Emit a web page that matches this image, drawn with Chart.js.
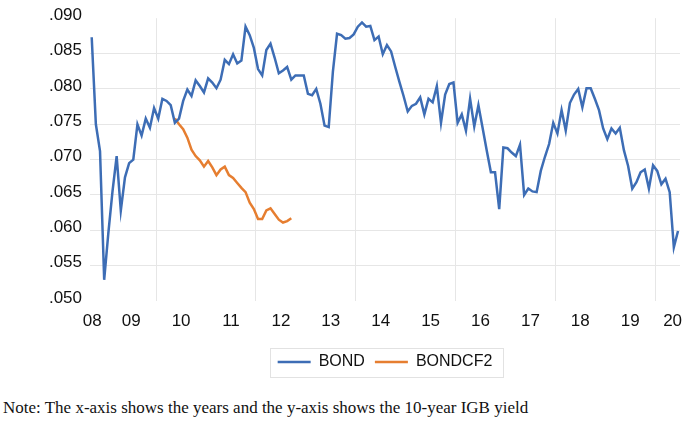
<!DOCTYPE html>
<html>
<head>
<meta charset="utf-8">
<script src="https://cdn.jsdelivr.net/npm/chart.js@4.4.1/dist/chart.umd.min.js"></script>
<style>
    body { margin: 0; background: #fff; }
    #wrap { position: relative; width: 685px; height: 395px; }
    #note {
        position: absolute; left: 3px; top: 398px;
        font-family: 'Liberation Serif', 'Times New Roman', serif;
        font-size: 17px; color: #111; white-space: nowrap;
    }
</style>
</head>
<body>
<div id="wrap"><canvas id="bondChart"></canvas></div>
<div id="note">Note: The x-axis shows the years and the y-axis shows the 10-year IGB yield</div>

<script>
// Monthly observations, 2008M09 .. 2020M06
const startYear = 2008, startMonth = 9;

const bond = [
    0.0873, 0.0750, 0.0712, 0.0530, 0.0596, 0.0655, 0.0705, 0.0628, 0.0675, 0.0695,
    0.0700, 0.0750, 0.0734, 0.0758, 0.0745, 0.0773, 0.0758, 0.0786, 0.0783, 0.0777,
    0.0752, 0.0758, 0.0783, 0.0799, 0.0790, 0.0812, 0.0804, 0.0795, 0.0815, 0.0809,
    0.0801, 0.0813, 0.0841, 0.0835, 0.0849, 0.0836, 0.0840, 0.0888, 0.0876, 0.0858,
    0.0828, 0.0819, 0.0855, 0.0864, 0.0844, 0.0822, 0.0826, 0.0831, 0.0813, 0.0819,
    0.0819, 0.0819, 0.0793, 0.0791, 0.0800, 0.0779, 0.0748, 0.0746, 0.0824, 0.0878,
    0.0876, 0.0871, 0.0872, 0.0877, 0.0888, 0.0894, 0.0888, 0.0889, 0.0869, 0.0874,
    0.0849, 0.0862, 0.0853, 0.0831, 0.0810, 0.0790, 0.0768, 0.0776, 0.0779, 0.0788,
    0.0764, 0.0786, 0.0781, 0.0804, 0.0752, 0.0792, 0.0807, 0.0809, 0.0752, 0.0764,
    0.0741, 0.0786, 0.0747, 0.0777, 0.0745, 0.0713, 0.0682, 0.0682, 0.0630, 0.0717,
    0.0716, 0.0710, 0.0705, 0.0721, 0.0650, 0.0659, 0.0655, 0.0654, 0.0684, 0.0704,
    0.0722, 0.0752, 0.0737, 0.0770, 0.0741, 0.0780, 0.0792, 0.0800, 0.0774, 0.0801,
    0.0801, 0.0786, 0.0770, 0.0744, 0.0729, 0.0744, 0.0737, 0.0745, 0.0713, 0.0691,
    0.0659, 0.0668, 0.0682, 0.0686, 0.0659, 0.0692, 0.0684, 0.0665, 0.0673, 0.0654,
    0.0576, 0.0599
];

// counterfactual series, 2010M05 .. 2012M09
const cf2Start = '2010M05';
const bondCf2 = [
    0.0758, 0.0750, 0.0743, 0.0731, 0.0714, 0.0705, 0.0699, 0.0690, 0.0698, 0.0689,
    0.0678, 0.0686, 0.0690, 0.0678, 0.0674, 0.0667, 0.0660, 0.0654, 0.0639, 0.0630,
    0.0616, 0.0616, 0.0628, 0.0631, 0.0623, 0.0615, 0.0611, 0.0613, 0.0617
];

const yearLabels = ['08', '09', '10', '11', '12', '13', '14', '15', '16', '17', '18', '19', '20'];

// month categories
const months = [];
for (let i = 0; i < bond.length; i++) {
    const m = startMonth - 1 + i;
    const y = startYear + Math.floor(m / 12);
    months.push(y + 'M' + String(m % 12 + 1).padStart(2, '0'));
}

// year label sits mid-year, first/last pulled inside the sample
const labelPos = yearLabels.map(function(lbl, k) {
    if (k === 0) return 0.15;
    if (k === yearLabels.length - 1) return 139.7;
    return months.indexOf('20' + lbl + 'M07') - 0.5;
});
// vertical grid between Dec and Jan of even years
const gridPos = ['2010', '2012', '2014', '2016', '2018', '2020'].map(function(y) {
    return months.indexOf(y + 'M01') - 0.5;
});

const xMin = -0.41, xMax = 141.48;
const cfOffset = months.indexOf(cf2Start);

const legendFrame = {
    id: 'legendFrame',
    afterDraw: function(chart) {
        const boxes = chart.legend.legendHitBoxes;
        if (!boxes || !boxes.length) return;
        const first = boxes[0], last = boxes[boxes.length - 1];
        const cy = first.top + first.height / 2;
        const ctx = chart.ctx;
        ctx.save();
        ctx.strokeStyle = '#e2e2e2';
        ctx.lineWidth = 1;
        ctx.strokeRect(Math.round(first.left - 8) + 0.5, Math.round(cy - 14.5) + 0.5,
            Math.round(last.left + last.width + 10 - first.left + 8), 29);
        ctx.restore();
    }
};

const ctx = document.getElementById('bondChart');
new Chart(ctx, {
    type: 'line',
    data: {
        datasets: [{
            label: 'BOND',
            data: bond.map(function(v, i) { return { x: i, y: v }; }),
            borderColor: '#3d6db5',
            backgroundColor: '#3d6db5',
            borderWidth: 2.5,
            pointRadius: 0,
            tension: 0,
            pointStyle: 'line'
        }, {
            label: 'BONDCF2',
            data: bondCf2.map(function(v, i) { return { x: i + cfOffset, y: v }; }),
            borderColor: '#e67e30',
            backgroundColor: '#e67e30',
            borderWidth: 2.5,
            pointRadius: 0,
            tension: 0,
            pointStyle: 'line'
        }]
    },
    options: {
        responsive: true,
        maintainAspectRatio: false,
        animation: false,
        layout: { padding: { top: 15, right: 5, bottom: 15, left: 0 } },
        scales: {
            x: {
                type: 'linear',
                position: 'bottom',
                min: xMin,
                max: xMax,
                grid: { display: false },
                border: { display: false },
                afterBuildTicks: function(scale) {
                    scale.ticks = labelPos.map(function(v) { return { value: v }; });
                },
                afterFit: function(scale) { scale.height = 43; },
                ticks: {
                    autoSkip: false,
                    maxRotation: 0,
                    padding: 2,
                    color: '#111',
                    font: { family: 'Liberation Sans', size: 17 },
                    callback: function(value, index) { return yearLabels[index]; }
                }
            },
            xg: {
                type: 'linear',
                position: 'bottom',
                min: xMin,
                max: xMax,
                border: { display: false },
                grid: { color: '#e6e6e6', lineWidth: 1, drawTicks: false },
                afterBuildTicks: function(scale) {
                    scale.ticks = gridPos.map(function(v) { return { value: v }; });
                },
                afterFit: function(scale) { scale.height = 0; },
                ticks: { display: false }
            },
            y: {
                min: 0.050,
                max: 0.090,
                border: { display: false },
                afterFit: function(scale) { scale.width = 90; },
                grid: {
                    drawTicks: false,
                    lineWidth: 1,
                    color: function(c) {
                        const v = c.tick ? c.tick.value : 0;
                        return (v <= 0.0501 || v >= 0.0899) ? 'rgba(0,0,0,0)' : '#e6e6e6';
                    }
                },
                ticks: {
                    stepSize: 0.005,
                    padding: 8,
                    labelOffset: -3,
                    color: '#111',
                    font: { family: 'Liberation Sans', size: 17 },
                    callback: function(v) { return v.toFixed(3).replace(/^0/, ''); }
                }
            }
        },
        plugins: {
            legend: {
                position: 'bottom',
                fullSize: false,
                labels: {
                    usePointStyle: true,
                    pointStyleWidth: 33,
                    padding: 10,
                    color: '#111',
                    font: { family: 'Liberation Sans', size: 16 }
                }
            },
            tooltip: { enabled: false }
        }
    },
    plugins: [legendFrame]
});
</script>
</body>
</html>
